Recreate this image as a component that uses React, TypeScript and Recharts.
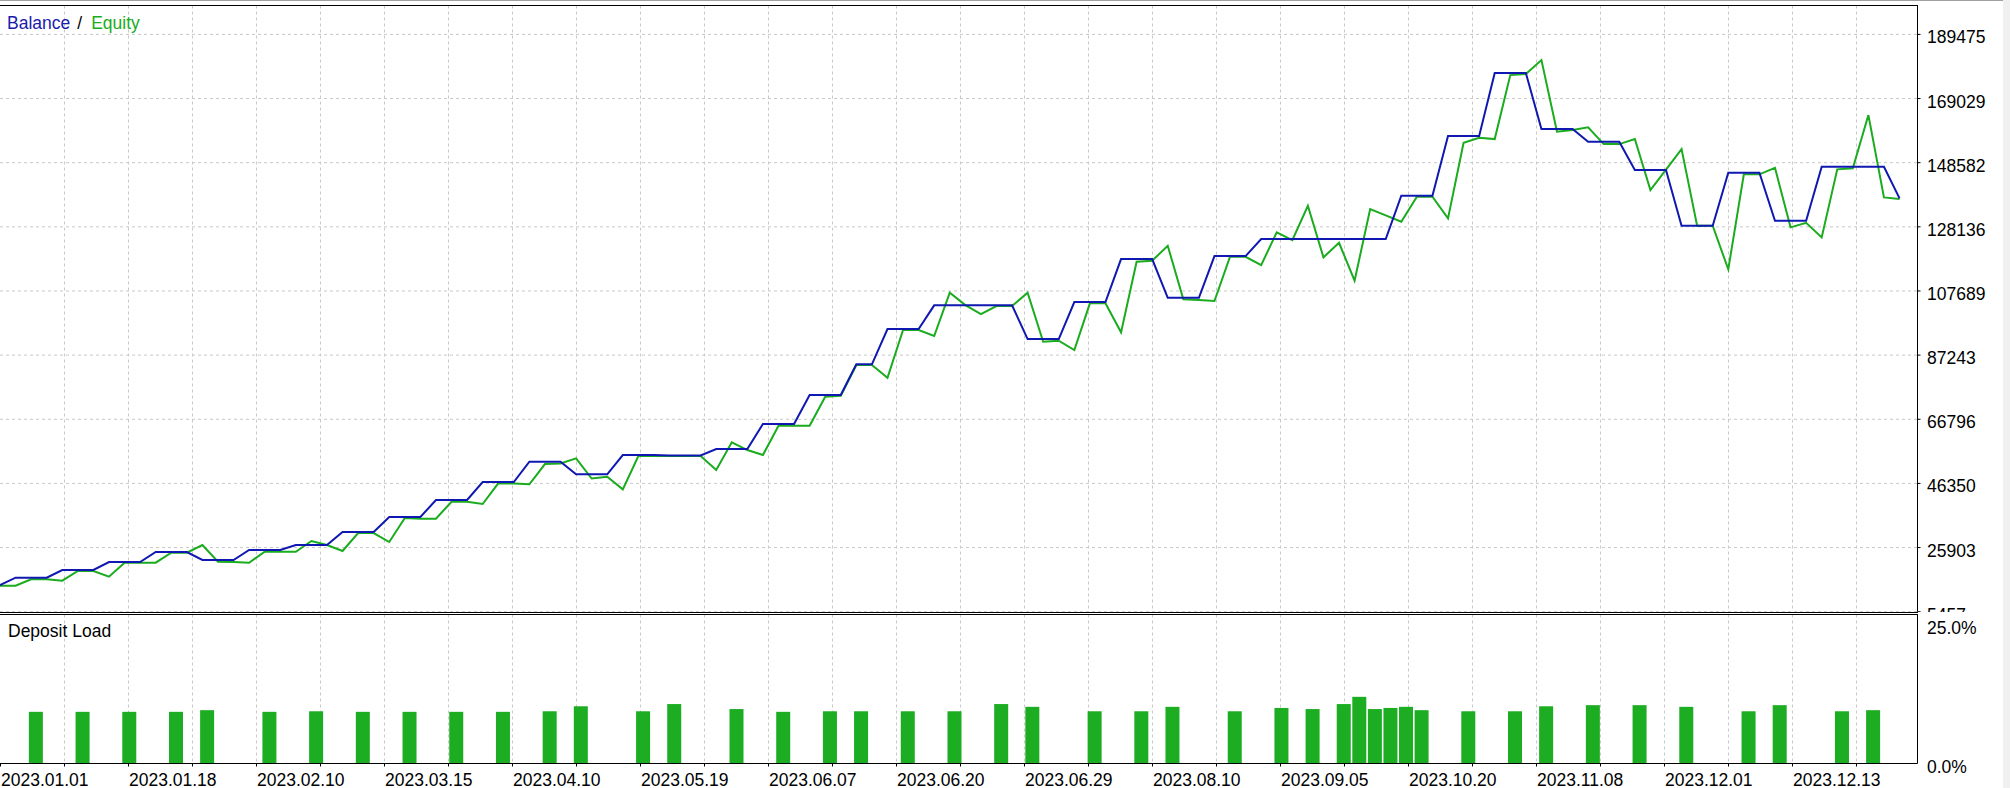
import React from "react";
import { LineChart, Line, ComposedChart, Bar, XAxis, YAxis, CartesianGrid } from "recharts";

// balance / equity per deal
const balance = [
  13966,
  16293, 16293, 16293, 18747, 18747, 18747, 21296, 21296, 21296,
  24483, 24483, 24483, 21934, 21934, 21934, 25121, 25121, 25121,
  26714, 26714, 26714, 30857, 30857, 30857, 35638, 35638, 35638,
  41056, 41056, 41056, 46792, 46792, 46792, 53262, 53262, 53262,
  49246, 49246, 49246, 55397, 55397, 55397, 55240, 55240, 55240,
  57309, 57309, 57309, 65277, 65277, 65277, 74519, 74519, 74519,
  84303, 84303, 95554, 95554, 95554,
  103107, 103107, 103107, 103107, 103107, 103107,
  92366, 92366, 92366, 104158, 104158, 104158, 117862, 117862, 117862,
  105529, 105529, 105529, 118818, 118818, 118818,
  124236, 124236, 124236, 124236, 124236, 124236, 124236, 124236, 124236,
  138036, 138036, 138036, 157062, 157062, 157062, 177141, 177141, 177141,
  159293, 159293, 159293, 155246, 155246, 155246, 146227, 146227, 146227,
  128475, 128475, 128475, 145366, 145366, 145366, 130069, 130069, 130069,
  147279, 147279, 147279, 147279, 147279, 137207,
];

const equity = [
  13743, 13743, 15783, 15783, 15337, 18428, 18428, 16612, 21073, 21073,
  21073, 24260, 24260, 26714, 21392, 21296, 21073, 24579, 24579, 24579,
  27989, 26714, 24802, 30539, 30539, 27670, 35319, 35096, 35096, 40514,
  40514, 39781, 46378, 46315, 46059, 52529, 52688, 54346, 47908, 48482,
  44466, 55078, 55078, 55078, 55078, 55078, 50617, 59445, 56991, 55397,
  64735, 64735, 64735, 73978, 74296, 84080, 84080, 80033, 95235, 95235,
  93323, 107122, 103202, 100334, 102883, 102883, 107122, 91506, 91825, 88861,
  103744, 103744, 94502, 117002, 117321, 122101, 105019, 104796, 104477, 118596,
  118596, 115950, 126372, 123918, 134849, 118404, 123057, 110947, 133797, 131790,
  129750, 137718, 137718, 130834, 154927, 156521, 156106, 176503, 176822, 181284,
  158433, 158975, 159835, 154513, 154513, 156106, 139853, 146386, 152919, 128475,
  128475, 114580, 144856, 144856, 146960, 127965, 129431, 124778, 146450, 146769,
  163755, 137526, 136984,
];

// deposit load bars: deal number and load in %
const loadDeals = [
  2, 5, 8, 11, 13, 17, 20, 23, 26, 29, 32, 35, 37, 41, 43, 47, 50, 53, 55, 58,
  61, 64, 66, 70, 73, 75, 79, 82, 84, 86, 87, 88, 89, 90, 91, 94, 97, 99, 102,
  105, 108, 112, 114, 118, 120,
];
const loadPct = [
  9.3, 9.3, 9.3, 9.3, 9.6, 9.3, 9.4, 9.3, 9.3, 9.3, 9.3, 9.4, 10.3, 9.4, 10.7,
  9.8, 9.3, 9.4, 9.4, 9.4, 9.4, 10.7, 10.2, 9.4, 9.4, 10.2, 9.4, 10.0, 9.8, 10.7,
  12.0, 9.8, 10.0, 10.2, 9.6, 9.4, 9.4, 10.3, 10.5, 10.5, 10.2, 9.4, 10.5, 9.4, 9.6,
];

const dateLabels = [
  "2023.01.01", "2023.01.18", "2023.02.10", "2023.03.15", "2023.04.10",
  "2023.05.19", "2023.06.07", "2023.06.20", "2023.06.29", "2023.08.10",
  "2023.09.05", "2023.10.20", "2023.11.08", "2023.12.01", "2023.12.13",
];

const balanceTicks = [5457, 25903, 46350, 66796, 87243, 107689, 128136, 148582, 169029, 189475];
const loadTicks = [0, 25];

const W = 2010;
const H = 788;
const AXIS_W = 92.5; // plot right edge at 1917.5
const PLOT_W = W - AXIS_W;
const POINT_PX = 15.57; // spacing of deals
const GRID_PX = 64;
const X_MAX = PLOT_W / POINT_PX;
const Y_MIN = 5457;
const Y_MAX = 198685;
const LOAD_MAX = 26.82;

const FONT = '"Liberation Sans", Arial, sans-serif';
const FS = 17.5;
const BLUE = "#0f18b0";
const GREEN = "#1aab1e";
const BAR_GREEN = "#1cad22";
const GRID = "#c8c8c8";

const gridX = Array.from({ length: 29 }, (_, k) => (k + 1) * GRID_PX + 0.5);
const xTicks = Array.from({ length: 30 }, (_, k) => (k * GRID_PX + 0.5) / POINT_PX);

const lineData = balance.map((b, i) => ({ i, balance: b, equity: equity[i] }));
const loadData = loadDeals.map((i, k) => ({ i, load: loadPct[k] }));

const ValueTick = (props: any) => {
  const { x, y, payload, suffix } = props;
  const v = suffix ? `${payload.value.toFixed(1)}%` : `${payload.value}`;
  return (
    <text x={x} y={y + 9} fill="#000" fontSize={FS} fontFamily={FONT} textAnchor="start">
      {v}
    </text>
  );
};

const DateTick = (props: any) => {
  const { x, y, index } = props;
  if (index % 2 !== 0) return <g />;
  return (
    <text x={x + 0.5} y={y + 19} fill="#000" fontSize={FS} fontFamily={FONT} textAnchor="start">
      {dateLabels[index / 2]}
    </text>
  );
};

const LoadBar = (props: any) => {
  const { x, y, width, height } = props;
  if (!height || height <= 0) return <g />;
  const cx = x + width / 2;
  return <rect x={cx - 2.5} y={y} width={14} height={height} fill={BAR_GREEN} />;
};

const App: React.FC = () => {
  return (
    <div
      style={{
        position: "absolute",
        left: 0,
        top: 0,
        width: W,
        height: H,
        background: "#ffffff",
        overflow: "hidden",
        fontFamily: FONT,
      }}
    >
      {/* balance / equity pane */}
      <div style={{ position: "absolute", left: 0, top: 0, width: W, height: 612, overflow: "hidden" }}>
        <LineChart width={W} height={613} data={lineData} margin={{ top: 5.5, right: 0, bottom: 1.3, left: 0 }}>
          <CartesianGrid
            stroke={GRID}
            strokeDasharray="3 3"
            verticalCoordinatesGenerator={() => gridX}
          />
          <XAxis type="number" dataKey="i" domain={[0, X_MAX]} allowDataOverflow hide />
          <YAxis
            orientation="right"
            width={AXIS_W}
            domain={[Y_MIN, Y_MAX]}
            allowDataOverflow
            ticks={balanceTicks}
            interval={0}
            axisLine={{ stroke: "#000" }}
            tickLine={{ stroke: "#000" }}
            tickSize={3}
            tickMargin={6.5}
            tick={<ValueTick />}
          />
          <Line
            type="linear"
            dataKey="equity"
            stroke={GREEN}
            strokeWidth={2}
            dot={false}
            activeDot={false}
            isAnimationActive={false}
          />
          <Line
            type="linear"
            dataKey="balance"
            stroke={BLUE}
            strokeWidth={2}
            dot={false}
            activeDot={false}
            isAnimationActive={false}
          />
        </LineChart>
      </div>

      {/* deposit load pane */}
      <div style={{ position: "absolute", left: 0, top: 614, width: W, height: 174 }}>
        <ComposedChart width={W} height={174} data={loadData} margin={{ top: 0.5, right: 0, bottom: 0, left: 0 }}>
          <CartesianGrid
            stroke={GRID}
            strokeDasharray="3 3"
            horizontal={false}
            verticalCoordinatesGenerator={() => gridX}
          />
          <XAxis
            type="number"
            dataKey="i"
            domain={[0, X_MAX]}
            allowDataOverflow
            ticks={xTicks}
            interval={0}
            height={24.5}
            axisLine={{ stroke: "#000" }}
            tickLine={{ stroke: "#000" }}
            tickSize={3}
            tickMargin={0}
            tick={<DateTick />}
          />
          <YAxis
            orientation="right"
            width={AXIS_W}
            domain={[0, LOAD_MAX]}
            allowDataOverflow
            ticks={loadTicks}
            interval={0}
            axisLine={{ stroke: "#000" }}
            tickLine={false}
            tickSize={3}
            tickMargin={6.5}
            tick={<ValueTick suffix />}
          />
          <Bar dataKey="load" barSize={14} fill={BAR_GREEN} shape={<LoadBar />} isAnimationActive={false} />
        </ComposedChart>
      </div>

      {/* pane frames */}
      <div style={{ position: "absolute", left: 0, top: 0, width: 2003, height: 1, background: "#a0a0a0" }} />
      <div style={{ position: "absolute", left: 2003, top: 0, width: 7, height: H, background: "#f0f0f0" }} />
      <div style={{ position: "absolute", left: 0, top: 5, width: 1918, height: 1, background: "#000" }} />
      <div style={{ position: "absolute", left: 0, top: 612, width: 1918, height: 1, background: "#000" }} />
      <div style={{ position: "absolute", left: 0, top: 614, width: 1918, height: 1, background: "#000" }} />

      {/* pane titles */}
      <div style={{ position: "absolute", left: 7, top: 14.5, fontSize: FS, lineHeight: `${FS}px`, whiteSpace: "nowrap" }}>
        <span style={{ color: "#1a1aae" }}>Balance</span>
        <span style={{ color: "#000", marginLeft: 7, marginRight: 9 }}>/</span>
        <span style={{ color: "#1aad1a" }}>Equity</span>
      </div>
      <div style={{ position: "absolute", left: 8, top: 623, fontSize: FS, lineHeight: `${FS}px`, color: "#000", whiteSpace: "nowrap" }}>
        Deposit Load
      </div>
    </div>
  );
};

export default App;
